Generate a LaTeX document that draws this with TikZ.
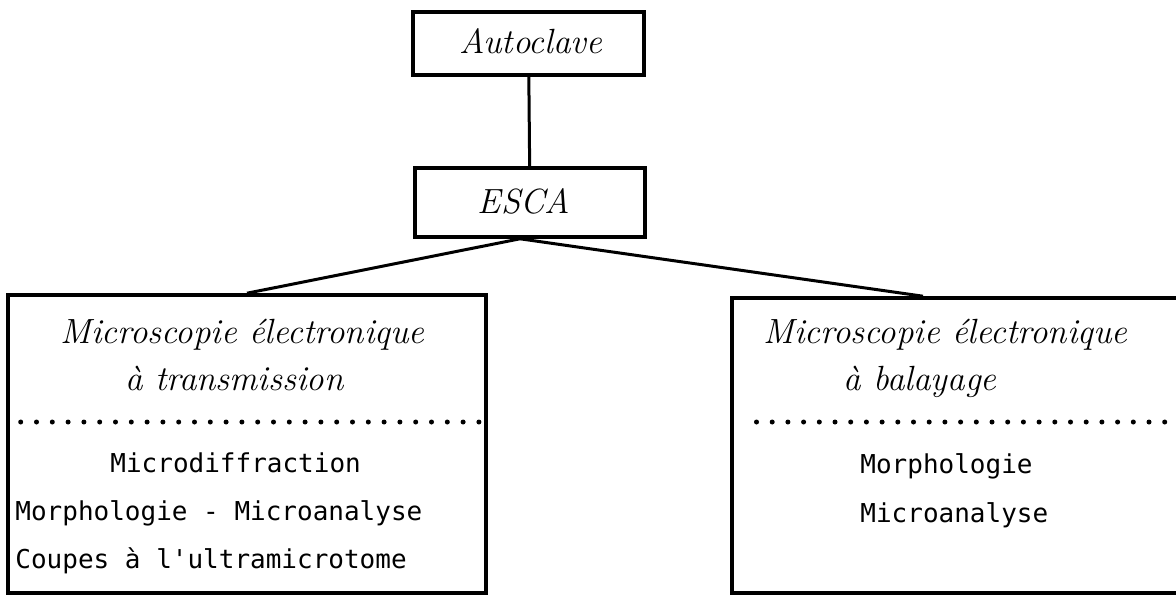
\documentclass[tikz,border=0pt]{standalone}
\usepackage{fontspec}
\newfontfamily\typefont{DejaVu Sans Mono}
\tikzset{
  box/.style={draw, line width=1.8pt, inner sep=0pt},
  hand/.style={font=\itshape\fontsize{17.5}{20}\selectfont, inner sep=0pt},
  type/.style={font=\typefont\fontsize{13}{15}\selectfont, anchor=base west, inner sep=0pt},
  link/.style={line width=1.5pt}
}
\begin{document}
\begin{tikzpicture}[x=0.5pt,y=-0.5pt]
  \clip (0,0) rectangle (1176,595);
  \fill[white] (0,0) rectangle (1176,595);
  % boxes
  \node[box, minimum width=115.5pt, minimum height=31.5pt] (autoclave) at (528.5,43.5) {};
  \node[box, minimum width=115pt, minimum height=34.5pt] (esca) at (530,202.5) {};
  \node[box, minimum width=239pt, minimum height=149pt] (met) at (247,444) {};
  \node[box, minimum width=229pt, minimum height=147.5pt] (meb) at (961,445.5) {};
  \node[hand, anchor=base] (autoclavetxt) at (531,53) {Autoclave};
  \node[hand, anchor=base] (escatxt) at (524,213) {ESCA};
  % links
  \draw[link] (autoclave) -- (esca);
  \draw[link] ([xshift=-5]esca.south) -- (met.north);
  \draw[link] ([xshift=-5]esca.south) -- ([xshift=-19]meb.north);
  % left box
  \node[hand, anchor=base west] (mettitle) at (60,343) {Microscopie électronique};
  \node[hand, anchor=base west] (metsub) at (125,390) {à transmission};
  \foreach \i in {0,...,29}
    \fill (20.7+\i*15.8,422) circle (1.25pt);
  \node[type] (microdiff) at (110,472) {Microdiffraction};
  \node[type] (morphmicro) at (15,520) {Morphologie - Microanalyse};
  \node[type] (coupes) at (15,568) {Coupes à l'ultramicrotome};
  % right box
  \node[hand, anchor=base west] (mebtitle) at (763,343) {Microscopie électronique};
  \node[hand, anchor=base west] (mebsub) at (843,390) {à balayage};
  \foreach \i in {0,...,26}
    \fill (756.5+\i*15.7,422) circle (1.25pt);
  \node[type] (morph) at (860,473) {Morphologie};
  \node[type] (microana) at (860,522) {Microanalyse};
\end{tikzpicture}
\end{document}
